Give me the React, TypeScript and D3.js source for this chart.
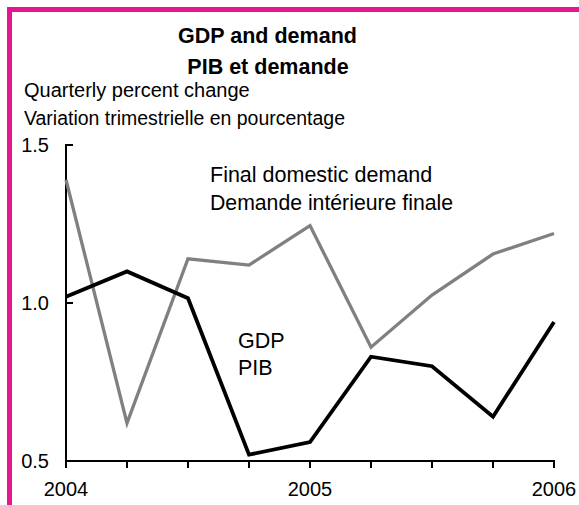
import React from 'react';
import * as d3 from 'd3';

// quarterly percent change, 2004Q1 .. 2006Q1
const quarters = [0, 1, 2, 3, 4, 5, 6, 7, 8];
const gdp = [1.02, 1.1, 1.015, 0.52, 0.56, 0.83, 0.8, 0.64, 0.94];
const demand = [1.39, 0.62, 1.14, 1.12, 1.245, 0.86, 1.025, 1.155, 1.22];
const yTicks = [0.5, 1.0, 1.5];
const yearLabels = ['2004', '2005', '2006'];
const yearPos = [0, 4, 8];

const W = 579;
const H = 505;
const font = '"Liberation Sans", Arial, Helvetica, sans-serif';

export default function App() {
  const x = d3.scaleLinear().domain([0, 8]).range([66, 554]);
  const y = d3.scaleLinear().domain([0.5, 1.5]).range([461, 145]);

  const line = d3.line<number>()
    .x((d, i) => x(quarters[i]))
    .y(d => y(d));

  return (
    <svg width={W} height={H} style={{ position: 'absolute', left: 0, top: 0 }} fontFamily={font}>
      <rect x={0} y={0} width={W} height={H} fill="#fff" />
      {/* pink frame, top and left */}
      <rect x={7} y={7} width={W - 7} height={5} fill="#e8168c" />
      <rect x={7} y={7} width={5} height={H - 7} fill="#e8168c" />

      <text x={267.5} y={43} textAnchor="middle" fontSize={21.5} fontWeight="bold">GDP and demand</text>
      <text x={268} y={74} textAnchor="middle" fontSize={21.5} fontWeight="bold">PIB et demande</text>
      <text x={24} y={97} fontSize={20}>Quarterly percent change</text>
      <text x={24} y={125} fontSize={20} textLength={321} lengthAdjust="spacingAndGlyphs">Variation trimestrielle en pourcentage</text>

      {/* axes */}
      <line x1={x(0)} x2={x(0)} y1={y(1.5) - 1} y2={y(0.5) + 1} stroke="#000" strokeWidth={2} />
      <line x1={x(0) - 1} x2={x(8) + 1} y1={y(0.5)} y2={y(0.5)} stroke="#000" strokeWidth={2} />
      {yTicks.map(t => (
        <g key={t}>
          <line x1={x(0)} x2={x(0) + 7} y1={y(t)} y2={y(t)} stroke="#000" strokeWidth={2} />
          <text x={49} y={y(t) + 7} textAnchor="end" fontSize={20}>{d3.format('.1f')(t)}</text>
        </g>
      ))}
      {quarters.map(q => (
        <line key={q} x1={x(q)} x2={x(q)} y1={y(0.5)} y2={y(0.5) + 7} stroke="#000" strokeWidth={2} />
      ))}
      {yearLabels.map((lab, i) => (
        <text key={lab} x={x(yearPos[i])} y={496} textAnchor="middle" fontSize={20}>{lab}</text>
      ))}

      <path d={line(demand) || ''} fill="none" stroke="#808080" strokeWidth={3.3} strokeLinejoin="miter" />
      <path d={line(gdp) || ''} fill="none" stroke="#000" strokeWidth={3.8} strokeLinejoin="miter" />

      <text x={210} y={182} fontSize={21.5}>Final domestic demand</text>
      <text x={210} y={210} fontSize={21.5} textLength={243} lengthAdjust="spacingAndGlyphs">Demande intérieure finale</text>
      <text x={238} y={348} fontSize={21.5}>GDP</text>
      <text x={238} y={375} fontSize={21.5}>PIB</text>
    </svg>
  );
}
